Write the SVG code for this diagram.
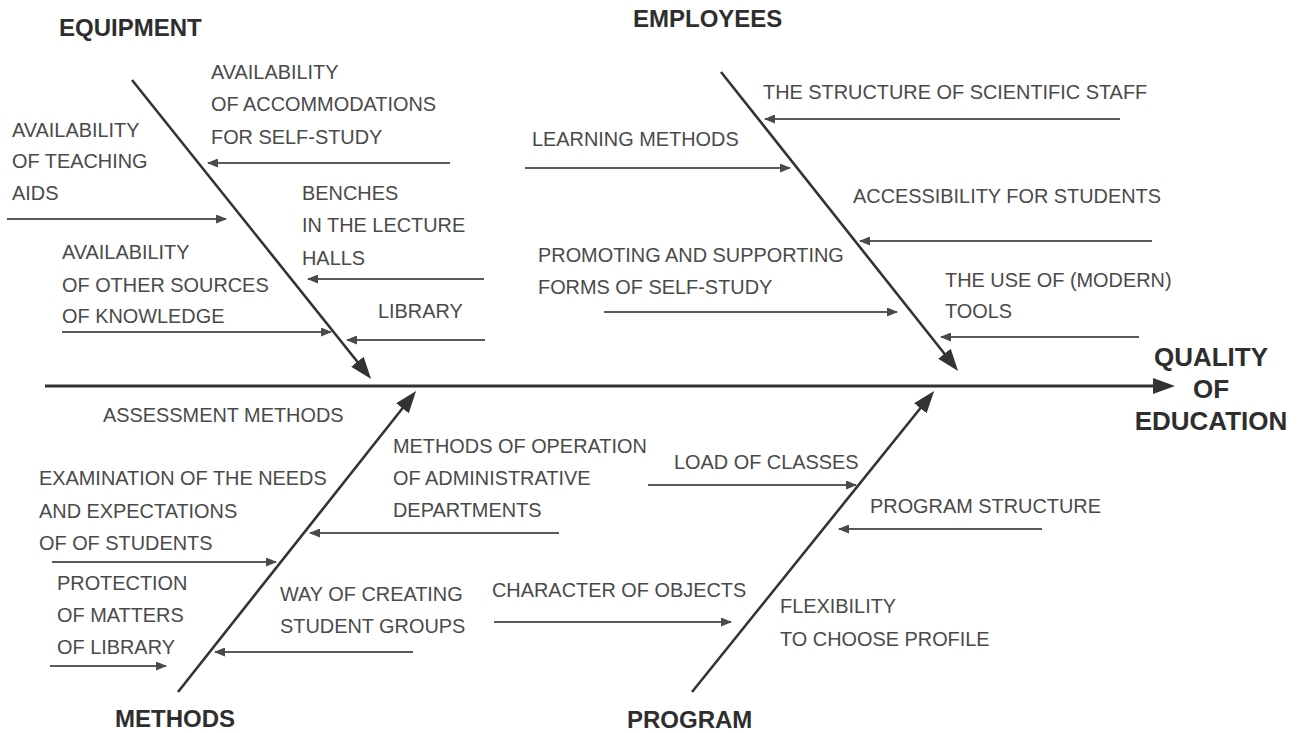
<svg xmlns="http://www.w3.org/2000/svg" width="1299" height="733" viewBox="0 0 1299 733">
  <defs>
    <style>
      .t { font-family: "Liberation Sans", Arial, sans-serif; font-size: 19.9px; fill: #4a4a4a; }
      .h { font-family: "Liberation Sans", Arial, sans-serif; font-size: 24px; font-weight: bold; fill: #2e2e2e; }
      .q { font-family: "Liberation Sans", Arial, sans-serif; font-size: 26px; font-weight: bold; fill: #2e2e2e; text-anchor: middle; }
      .bone { stroke: #333; stroke-width: 2.6; fill: none; marker-end: url(#big); }
      .spine { stroke: #333; stroke-width: 3; fill: none; marker-end: url(#big); }
      .cause { stroke: #5a5a5a; stroke-width: 2; fill: none; marker-end: url(#small); }
    </style>
    <marker id="big" markerUnits="userSpaceOnUse" viewBox="0 0 22 16" markerWidth="22" markerHeight="16" refX="17" refY="8" orient="auto">
      <path d="M0,0 L22,8 L0,16 z" fill="#333"/>
    </marker>
    <marker id="small" markerUnits="userSpaceOnUse" viewBox="0 0 11 9" markerWidth="11" markerHeight="9" refX="10" refY="4.5" orient="auto">
      <path d="M0,0 L11,4.5 L0,9 z" fill="#4a4a4a"/>
    </marker>
  </defs>

  <rect width="1299" height="733" fill="#ffffff"/>

  <!-- spine, category bones and cause arrows -->
  <g id="connectors">
    <line class="spine" x1="45" y1="386" x2="1170" y2="386"/>
    <line class="bone" x1="132" y1="80" x2="368" y2="375"/>
    <line class="bone" x1="721" y1="72" x2="955" y2="367"/>
    <line class="bone" x1="178" y1="692" x2="413" y2="395"/>
    <line class="bone" x1="692" y1="692" x2="931" y2="395"/>

    <line class="cause" x1="450" y1="163" x2="208" y2="163"/>
    <line class="cause" x1="7" y1="219" x2="226" y2="219"/>
    <line class="cause" x1="484" y1="279" x2="308" y2="279"/>
    <line class="cause" x1="62" y1="332" x2="331" y2="332"/>
    <line class="cause" x1="485" y1="340" x2="347" y2="340"/>

    <line class="cause" x1="1120" y1="119" x2="765" y2="119"/>
    <line class="cause" x1="525" y1="168" x2="790" y2="168"/>
    <line class="cause" x1="1152" y1="241" x2="860" y2="241"/>
    <line class="cause" x1="604" y1="312" x2="897" y2="312"/>
    <line class="cause" x1="1139" y1="337" x2="941" y2="337"/>

    <line class="cause" x1="52" y1="562" x2="276" y2="562"/>
    <line class="cause" x1="50" y1="666" x2="166" y2="666"/>
    <line class="cause" x1="559" y1="533" x2="310" y2="533"/>
    <line class="cause" x1="413" y1="652" x2="215" y2="652"/>

    <line class="cause" x1="494" y1="622" x2="731" y2="622"/>
    <line class="cause" x1="648" y1="485" x2="856" y2="485"/>
    <line class="cause" x1="1042" y1="529" x2="839" y2="529"/>
  </g>

  <!-- effect -->
  <g id="quality-of-education">
    <text class="q" x="1211" y="366">QUALITY</text>
    <text class="q" x="1211" y="398">OF</text>
    <text class="q" x="1211" y="430">EDUCATION</text>
  </g>

  <!-- category: equipment -->
  <g id="equipment">
    <text class="h" x="59" y="36">EQUIPMENT</text>
  </g>
  <g id="accommodations">
    <text class="t" x="211" y="79">AVAILABILITY</text>
    <text class="t" x="211" y="111">OF ACCOMMODATIONS</text>
    <text class="t" x="211" y="144">FOR SELF-STUDY</text>
  </g>
  <g id="teaching-aids">
    <text class="t" x="12" y="137">AVAILABILITY</text>
    <text class="t" x="12" y="168">OF TEACHING</text>
    <text class="t" x="12" y="200">AIDS</text>
  </g>
  <g id="benches">
    <text class="t" x="302" y="200">BENCHES</text>
    <text class="t" x="302" y="232">IN THE LECTURE</text>
    <text class="t" x="302" y="265">HALLS</text>
  </g>
  <g id="other-sources">
    <text class="t" x="62" y="259">AVAILABILITY</text>
    <text class="t" x="62" y="292">OF OTHER SOURCES</text>
    <text class="t" x="62" y="323">OF KNOWLEDGE</text>
  </g>
  <g id="library">
    <text class="t" x="378" y="318">LIBRARY</text>
  </g>

  <!-- category: employees -->
  <g id="employees">
    <text class="h" x="633" y="27">EMPLOYEES</text>
  </g>
  <g id="scientific-staff">
    <text class="t" x="763" y="99">THE STRUCTURE OF SCIENTIFIC STAFF</text>
  </g>
  <g id="learning-methods">
    <text class="t" x="532" y="146">LEARNING METHODS</text>
  </g>
  <g id="accessibility">
    <text class="t" x="853" y="203">ACCESSIBILITY FOR STUDENTS</text>
  </g>
  <g id="self-study">
    <text class="t" x="538" y="262">PROMOTING AND SUPPORTING</text>
    <text class="t" x="538" y="294">FORMS OF SELF-STUDY</text>
  </g>
  <g id="modern-tools">
    <text class="t" x="945" y="287">THE USE OF (MODERN)</text>
    <text class="t" x="945" y="318">TOOLS</text>
  </g>

  <!-- category: methods -->
  <g id="methods">
    <text class="h" x="115" y="727">METHODS</text>
  </g>
  <g id="assessment">
    <text class="t" x="103" y="422">ASSESSMENT METHODS</text>
  </g>
  <g id="needs">
    <text class="t" x="39" y="485">EXAMINATION OF THE NEEDS</text>
    <text class="t" x="39" y="518">AND EXPECTATIONS</text>
    <text class="t" x="39" y="550">OF OF STUDENTS</text>
  </g>
  <g id="protection">
    <text class="t" x="57" y="590">PROTECTION</text>
    <text class="t" x="57" y="622">OF MATTERS</text>
    <text class="t" x="57" y="654">OF LIBRARY</text>
  </g>
  <g id="administration">
    <text class="t" x="393" y="453">METHODS OF OPERATION</text>
    <text class="t" x="393" y="485">OF ADMINISTRATIVE</text>
    <text class="t" x="393" y="517">DEPARTMENTS</text>
  </g>
  <g id="student-groups">
    <text class="t" x="280" y="601">WAY OF CREATING</text>
    <text class="t" x="280" y="633">STUDENT GROUPS</text>
  </g>

  <!-- category: program -->
  <g id="program">
    <text class="h" x="627" y="728">PROGRAM</text>
  </g>
  <g id="objects">
    <text class="t" x="492" y="597">CHARACTER OF OBJECTS</text>
  </g>
  <g id="load">
    <text class="t" x="674" y="469">LOAD OF CLASSES</text>
  </g>
  <g id="program-structure">
    <text class="t" x="870" y="513">PROGRAM STRUCTURE</text>
  </g>
  <g id="flexibility">
    <text class="t" x="780" y="613">FLEXIBILITY</text>
    <text class="t" x="780" y="646">TO CHOOSE PROFILE</text>
  </g>
</svg>
